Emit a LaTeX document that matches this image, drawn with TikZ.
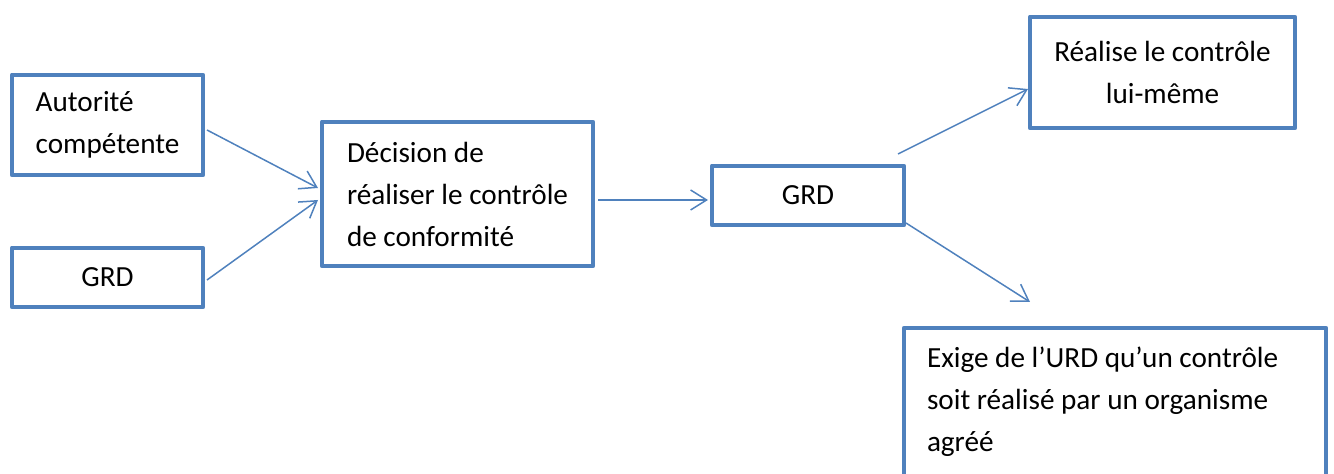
\documentclass[tikz,border=0pt]{standalone}
\usepackage{fontspec}
\setmainfont{Carlito}
\usepackage{tikz}
\usetikzlibrary{arrows.meta,calc,positioning}
\definecolor{cfBlue}{RGB}{79,129,189}
\definecolor{cfInk}{RGB}{0,0,0}

\begin{document}
\begin{tikzpicture}[x=0.5pt,y=-0.5pt,
  cfbox/.style={draw=cfBlue,line width=2.4pt,line join=round,inner sep=0pt,outer sep=0pt,
    font=\fontsize{14.6pt}{21pt}\selectfont,text=cfInk},
  cflink/.style={draw=cfBlue,line width=0.75pt,-{Straight Barb[length=8pt,width=10pt]}}]
  \useasboundingbox (0,0) rectangle (1334,474);
  \node[cfbox,minimum width=95.5pt,minimum height=50pt,align=flush left] (aut) at (107.5,125) {Autorité\\compétente};
  \node[cfbox,minimum width=95.5pt,minimum height=29.5pt] (grdA) at (107.5,277.5) {GRD};
  \node[cfbox,minimum width=135.5pt,minimum height=72pt,align=flush left] (dec) at (457.5,194) {Décision de\\réaliser le contrôle\\de conformité};
  \node[cfbox,minimum width=96pt,minimum height=29.5pt] (grdB) at (808,195.5) {GRD};
  \node[cfbox,minimum width=132.5pt,minimum height=55.5pt,align=center] (real) at (1162.5,72.5) {Réalise le contrôle\\lui-même};
  \node[cfbox,anchor=north west,inner xsep=11.5pt,inner ysep=9pt,text width=188pt,
    text height=11pt,text depth=80pt,align=flush left] (exig) at (904,328)
    {Exige de l’URD qu’un contrôle\\soit réalisé par un organisme\\agréé};
  \draw[cflink] ($(aut.east)+(4,5)$) -- ($(dec.west)+(-4,-6)$);
  \draw[cflink] ($(grdA.east)+(4,2.5)$) -- ($(dec.west)+(-4,6)$);
  \draw[cflink] ($(dec.east)+(5,6)$) -- ($(grdB.west)+(-4,4.5)$);
  \draw[cflink] ($(grdB.north east)+(-6,-12)$) -- ($(real.west)+(-2,16.5)$);
  \draw[cflink] ($(grdB.south east)+(2,-2)$) -- ($(exig.north west)+(126,-26)$);
\end{tikzpicture}
\end{document}
